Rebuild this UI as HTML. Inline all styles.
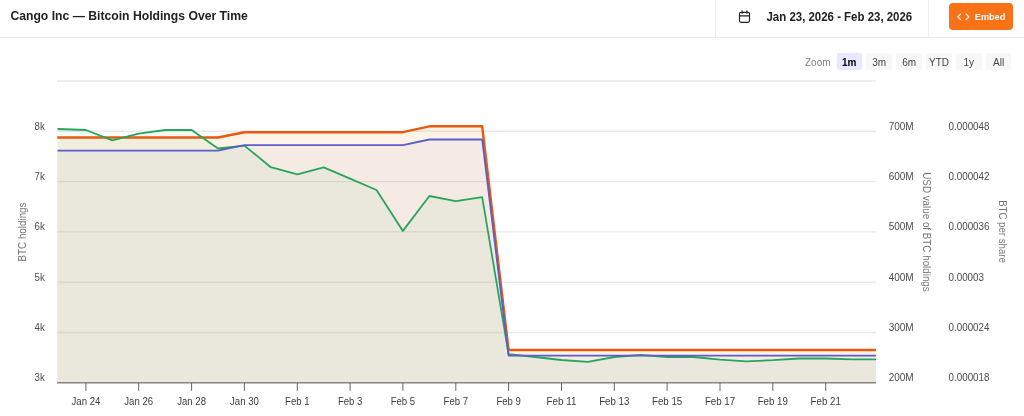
<!DOCTYPE html>
<html lang="en">
<head>
<meta charset="utf-8">
<title>Cango Inc — Bitcoin Holdings Over Time</title>
<style>
html,body{margin:0;padding:0;background:#fff;}
body{width:1024px;height:416px;overflow:hidden;position:relative;font-family:"Liberation Sans",Arial,sans-serif;}
#chart{position:absolute;left:0;top:0;width:1024px;height:416px;display:block;}
text{font-family:"Liberation Sans",Arial,sans-serif;}
.hdr{position:absolute;left:0;top:0;width:1024px;height:37px;border-bottom:1px solid #ebebeb;box-sizing:content-box;}
.sep{position:absolute;top:0;width:1px;height:37px;background:#eeeeee;}
.embed{position:absolute;left:948.6px;top:3px;width:64.7px;height:26.6px;border-radius:4px;background:#f97316;}
.zb{position:absolute;top:53px;height:17.4px;width:25.6px;border-radius:2px;background:#f7f7f7;}
.zb.sel{background:#e6e9ff;}
</style>
</head>
<body>
<div class="hdr">
  <div class="sep" style="left:715px"></div>
  <div class="sep" style="left:928px"></div>
  <div class="embed"></div>
</div>
<div class="zb sel" style="left:836.5px"></div>
<div class="zb" style="left:866.4px"></div>
<div class="zb" style="left:896.3px"></div>
<div class="zb" style="left:926.2px"></div>
<div class="zb" style="left:956.0px"></div>
<div class="zb" style="left:985.8px"></div>
<svg id="chart" width="1024" height="416" viewBox="0 0 1024 416">
<defs><clipPath id="plot"><rect x="57.0" y="60" width="819.0" height="322.8"/></clipPath></defs>
<line x1="57.0" x2="876.0" y1="81.0" y2="81.0" stroke="#e9e9e9" stroke-width="1.4"/>
<line x1="57.0" x2="876.0" y1="131.3" y2="131.3" stroke="#e9e9e9" stroke-width="1.4"/>
<line x1="57.0" x2="876.0" y1="181.6" y2="181.6" stroke="#e9e9e9" stroke-width="1.4"/>
<line x1="57.0" x2="876.0" y1="231.9" y2="231.9" stroke="#e9e9e9" stroke-width="1.4"/>
<line x1="57.0" x2="876.0" y1="282.2" y2="282.2" stroke="#e9e9e9" stroke-width="1.4"/>
<line x1="57.0" x2="876.0" y1="332.5" y2="332.5" stroke="#e9e9e9" stroke-width="1.4"/>
<g clip-path="url(#plot)">
<path d="M57.3 137.5 L58.2 137.5 L85.9 137.5 L112.3 137.5 L138.7 137.5 L165.2 137.5 L191.6 137.5 L218.0 137.5 L244.4 132.2 L270.8 132.2 L297.3 132.2 L323.7 132.2 L350.1 132.2 L376.5 132.2 L402.9 132.2 L429.4 126.3 L455.8 126.3 L482.2 126.3 L508.6 350.0 L535.0 350.0 L561.5 350.0 L587.9 350.0 L614.3 350.0 L640.7 350.0 L667.1 350.0 L693.6 350.0 L720.0 350.0 L746.4 350.0 L772.8 350.0 L799.2 350.0 L825.7 350.0 L852.1 350.0 L878.5 350.0 L878.5 382.8 L57.3 382.8 Z" fill="#f7931a" fill-opacity="0.11"/>
<path d="M57.3 150.6 L58.2 150.6 L85.9 150.6 L112.3 150.6 L138.7 150.6 L165.2 150.6 L191.6 150.6 L218.0 150.6 L244.4 145.2 L270.8 145.2 L297.3 145.2 L323.7 145.2 L350.1 145.2 L376.5 145.2 L402.9 145.2 L429.4 139.5 L455.8 139.5 L482.2 139.5 L508.6 355.6 L535.0 355.6 L561.5 355.6 L587.9 355.6 L614.3 355.6 L640.7 355.6 L667.1 355.6 L693.6 355.6 L720.0 355.6 L746.4 355.6 L772.8 355.6 L799.2 355.6 L825.7 355.6 L852.1 355.6 L878.5 355.6 L878.5 382.8 L57.3 382.8 Z" fill="#5c5ccc" fill-opacity="0.05"/>
<path d="M57.3 129.0 L58.2 129.0 L85.9 130.0 L112.3 140.4 L138.7 133.7 L165.2 130.0 L191.6 130.0 L218.0 148.5 L244.4 145.6 L270.8 167.2 L297.3 174.4 L323.7 167.3 L350.1 178.7 L376.5 190.0 L402.9 230.9 L429.4 196.0 L455.8 201.2 L482.2 197.1 L508.6 354.2 L535.0 357.0 L561.5 360.0 L587.9 361.9 L614.3 357.0 L640.7 354.8 L667.1 357.0 L693.6 357.0 L720.0 359.6 L746.4 361.3 L772.8 360.2 L799.2 358.5 L825.7 358.5 L852.1 359.4 L878.5 359.4 L878.5 382.8 L57.3 382.8 Z" fill="#27a65b" fill-opacity="0.055"/>
<polyline points="58.2,137.5 85.9,137.5 112.3,137.5 138.7,137.5 165.2,137.5 191.6,137.5 218.0,137.5 244.4,132.2 270.8,132.2 297.3,132.2 323.7,132.2 350.1,132.2 376.5,132.2 402.9,132.2 429.4,126.3 455.8,126.3 482.2,126.3 508.6,350.0 535.0,350.0 561.5,350.0 587.9,350.0 614.3,350.0 640.7,350.0 667.1,350.0 693.6,350.0 720.0,350.0 746.4,350.0 772.8,350.0 799.2,350.0 825.7,350.0 852.1,350.0 878.5,350.0" fill="none" stroke="#e8590c" stroke-width="2.4" stroke-linejoin="round" stroke-linecap="round"/>
<polyline points="58.2,129.0 85.9,130.0 112.3,140.4 138.7,133.7 165.2,130.0 191.6,130.0 218.0,148.5 244.4,145.6 270.8,167.2 297.3,174.4 323.7,167.3 350.1,178.7 376.5,190.0 402.9,230.9 429.4,196.0 455.8,201.2 482.2,197.1 508.6,354.2 535.0,357.0 561.5,360.0 587.9,361.9 614.3,357.0 640.7,354.8 667.1,357.0 693.6,357.0 720.0,359.6 746.4,361.3 772.8,360.2 799.2,358.5 825.7,358.5 852.1,359.4 878.5,359.4" fill="none" stroke="#27a65b" stroke-width="1.8" stroke-linejoin="round" stroke-linecap="round"/>
<polyline points="58.2,150.6 85.9,150.6 112.3,150.6 138.7,150.6 165.2,150.6 191.6,150.6 218.0,150.6 244.4,145.2 270.8,145.2 297.3,145.2 323.7,145.2 350.1,145.2 376.5,145.2 402.9,145.2 429.4,139.5 455.8,139.5 482.2,139.5 508.6,355.6 535.0,355.6 561.5,355.6 587.9,355.6 614.3,355.6 640.7,355.6 667.1,355.6 693.6,355.6 720.0,355.6 746.4,355.6 772.8,355.6 799.2,355.6 825.7,355.6 852.1,355.6 878.5,355.6" fill="none" stroke="#5c5ccc" stroke-width="1.8" stroke-linejoin="round" stroke-linecap="round"/>
</g>
<line x1="57.0" x2="876.0" y1="382.8" y2="382.8" stroke="#858585" stroke-width="1.6"/>
<line x1="85.9" x2="85.9" y1="382.8" y2="390.8" stroke="#666" stroke-width="1"/>
<text x="85.9" y="404.8" text-anchor="middle" font-size="10.0" fill="#3c3c3c" textLength="28.8" lengthAdjust="spacingAndGlyphs">Jan 24</text>
<line x1="138.7" x2="138.7" y1="382.8" y2="390.8" stroke="#666" stroke-width="1"/>
<text x="138.7" y="404.8" text-anchor="middle" font-size="10.0" fill="#3c3c3c" textLength="28.8" lengthAdjust="spacingAndGlyphs">Jan 26</text>
<line x1="191.6" x2="191.6" y1="382.8" y2="390.8" stroke="#666" stroke-width="1"/>
<text x="191.6" y="404.8" text-anchor="middle" font-size="10.0" fill="#3c3c3c" textLength="28.8" lengthAdjust="spacingAndGlyphs">Jan 28</text>
<line x1="244.4" x2="244.4" y1="382.8" y2="390.8" stroke="#666" stroke-width="1"/>
<text x="244.4" y="404.8" text-anchor="middle" font-size="10.0" fill="#3c3c3c" textLength="28.8" lengthAdjust="spacingAndGlyphs">Jan 30</text>
<line x1="297.3" x2="297.3" y1="382.8" y2="390.8" stroke="#666" stroke-width="1"/>
<text x="297.3" y="404.8" text-anchor="middle" font-size="10.0" fill="#3c3c3c" textLength="24.4" lengthAdjust="spacingAndGlyphs">Feb 1</text>
<line x1="350.1" x2="350.1" y1="382.8" y2="390.8" stroke="#666" stroke-width="1"/>
<text x="350.1" y="404.8" text-anchor="middle" font-size="10.0" fill="#3c3c3c" textLength="24.4" lengthAdjust="spacingAndGlyphs">Feb 3</text>
<line x1="402.9" x2="402.9" y1="382.8" y2="390.8" stroke="#666" stroke-width="1"/>
<text x="402.9" y="404.8" text-anchor="middle" font-size="10.0" fill="#3c3c3c" textLength="24.4" lengthAdjust="spacingAndGlyphs">Feb 5</text>
<line x1="455.8" x2="455.8" y1="382.8" y2="390.8" stroke="#666" stroke-width="1"/>
<text x="455.8" y="404.8" text-anchor="middle" font-size="10.0" fill="#3c3c3c" textLength="24.4" lengthAdjust="spacingAndGlyphs">Feb 7</text>
<line x1="508.6" x2="508.6" y1="382.8" y2="390.8" stroke="#666" stroke-width="1"/>
<text x="508.6" y="404.8" text-anchor="middle" font-size="10.0" fill="#3c3c3c" textLength="24.4" lengthAdjust="spacingAndGlyphs">Feb 9</text>
<line x1="561.5" x2="561.5" y1="382.8" y2="390.8" stroke="#666" stroke-width="1"/>
<text x="561.5" y="404.8" text-anchor="middle" font-size="10.0" fill="#3c3c3c" textLength="29.8" lengthAdjust="spacingAndGlyphs">Feb 11</text>
<line x1="614.3" x2="614.3" y1="382.8" y2="390.8" stroke="#666" stroke-width="1"/>
<text x="614.3" y="404.8" text-anchor="middle" font-size="10.0" fill="#3c3c3c" textLength="30.2" lengthAdjust="spacingAndGlyphs">Feb 13</text>
<line x1="667.1" x2="667.1" y1="382.8" y2="390.8" stroke="#666" stroke-width="1"/>
<text x="667.1" y="404.8" text-anchor="middle" font-size="10.0" fill="#3c3c3c" textLength="30.2" lengthAdjust="spacingAndGlyphs">Feb 15</text>
<line x1="720.0" x2="720.0" y1="382.8" y2="390.8" stroke="#666" stroke-width="1"/>
<text x="720.0" y="404.8" text-anchor="middle" font-size="10.0" fill="#3c3c3c" textLength="30.2" lengthAdjust="spacingAndGlyphs">Feb 17</text>
<line x1="772.8" x2="772.8" y1="382.8" y2="390.8" stroke="#666" stroke-width="1"/>
<text x="772.8" y="404.8" text-anchor="middle" font-size="10.0" fill="#3c3c3c" textLength="30.2" lengthAdjust="spacingAndGlyphs">Feb 19</text>
<line x1="825.7" x2="825.7" y1="382.8" y2="390.8" stroke="#666" stroke-width="1"/>
<text x="825.7" y="404.8" text-anchor="middle" font-size="10.0" fill="#3c3c3c" textLength="30.2" lengthAdjust="spacingAndGlyphs">Feb 21</text>
<text x="44.8" y="129.6" text-anchor="end" font-size="10.0" fill="#4a4a4a" textLength="10.2" lengthAdjust="spacingAndGlyphs">8k</text>
<text x="44.8" y="179.9" text-anchor="end" font-size="10.0" fill="#4a4a4a" textLength="10.2" lengthAdjust="spacingAndGlyphs">7k</text>
<text x="44.8" y="230.2" text-anchor="end" font-size="10.0" fill="#4a4a4a" textLength="10.2" lengthAdjust="spacingAndGlyphs">6k</text>
<text x="44.8" y="280.5" text-anchor="end" font-size="10.0" fill="#4a4a4a" textLength="10.2" lengthAdjust="spacingAndGlyphs">5k</text>
<text x="44.8" y="330.8" text-anchor="end" font-size="10.0" fill="#4a4a4a" textLength="10.2" lengthAdjust="spacingAndGlyphs">4k</text>
<text x="44.8" y="381.1" text-anchor="end" font-size="10.0" fill="#4a4a4a" textLength="10.2" lengthAdjust="spacingAndGlyphs">3k</text>
<text x="888.7" y="129.6" font-size="10.0" fill="#4a4a4a">700M</text>
<text x="888.7" y="179.9" font-size="10.0" fill="#4a4a4a">600M</text>
<text x="888.7" y="230.2" font-size="10.0" fill="#4a4a4a">500M</text>
<text x="888.7" y="280.5" font-size="10.0" fill="#4a4a4a">400M</text>
<text x="888.7" y="330.8" font-size="10.0" fill="#4a4a4a">300M</text>
<text x="888.7" y="381.1" font-size="10.0" fill="#4a4a4a">200M</text>
<text x="948.5" y="129.6" font-size="10.0" fill="#4a4a4a" textLength="41.0" lengthAdjust="spacingAndGlyphs">0.000048</text>
<text x="948.5" y="179.9" font-size="10.0" fill="#4a4a4a" textLength="41.0" lengthAdjust="spacingAndGlyphs">0.000042</text>
<text x="948.5" y="230.2" font-size="10.0" fill="#4a4a4a" textLength="41.0" lengthAdjust="spacingAndGlyphs">0.000036</text>
<text x="948.5" y="280.5" font-size="10.0" fill="#4a4a4a" textLength="35.5" lengthAdjust="spacingAndGlyphs">0.00003</text>
<text x="948.5" y="330.8" font-size="10.0" fill="#4a4a4a" textLength="41.0" lengthAdjust="spacingAndGlyphs">0.000024</text>
<text x="948.5" y="381.1" font-size="10.0" fill="#4a4a4a" textLength="41.0" lengthAdjust="spacingAndGlyphs">0.000018</text>
<text transform="translate(26.0 232) rotate(-90)" text-anchor="middle" font-size="10.0" fill="#757575" textLength="58.9" lengthAdjust="spacingAndGlyphs">BTC holdings</text>
<text transform="translate(923.4 232) rotate(90)" text-anchor="middle" font-size="10.0" fill="#757575" textLength="119.5" lengthAdjust="spacingAndGlyphs">USD value of BTC holdings</text>
<text transform="translate(998.6 231.5) rotate(90)" text-anchor="middle" font-size="10.0" fill="#757575" textLength="62.7" lengthAdjust="spacingAndGlyphs">BTC per share</text>
<text x="10.4" y="20" font-size="12.6" font-weight="bold" fill="#222" textLength="237.4" lengthAdjust="spacingAndGlyphs">Cango Inc — Bitcoin Holdings Over Time</text>
<text x="766.5" y="21.2" font-size="12.6" font-weight="bold" fill="#222" textLength="145.7" lengthAdjust="spacingAndGlyphs">Jan 23, 2026 - Feb 23, 2026</text>
<g fill="none" stroke="#222" stroke-width="1.15" stroke-linecap="round" stroke-linejoin="round"><rect x="739.5" y="12.3" width="10" height="10" rx="1.5"/><path d="M739.5 15.8h10M742.1 10.9v2.4M746.9 10.9v2.4"/></g>
<g fill="none" stroke="#fff" stroke-width="1.05" stroke-linecap="round" stroke-linejoin="round"><path d="M960.6 14l-2.9 2.8 2.9 2.8M966 14l2.9 2.8-2.9 2.8"/></g>
<text x="974.8" y="19.9" font-size="9.5" font-weight="bold" fill="#fff" textLength="30.5" lengthAdjust="spacingAndGlyphs">Embed</text>
<text x="805" y="65.7" font-size="10.0" fill="#808080">Zoom</text>
<text x="849.3" y="65.7" text-anchor="middle" font-size="10.0" fill="#000" font-weight="bold">1m</text>
<text x="879.2" y="65.7" text-anchor="middle" font-size="10.0" fill="#444">3m</text>
<text x="909.1" y="65.7" text-anchor="middle" font-size="10.0" fill="#444">6m</text>
<text x="939.0" y="65.7" text-anchor="middle" font-size="10.0" fill="#444">YTD</text>
<text x="968.8" y="65.7" text-anchor="middle" font-size="10.0" fill="#444">1y</text>
<text x="998.6" y="65.7" text-anchor="middle" font-size="10.0" fill="#444">All</text>
</svg>
</body>
</html>
